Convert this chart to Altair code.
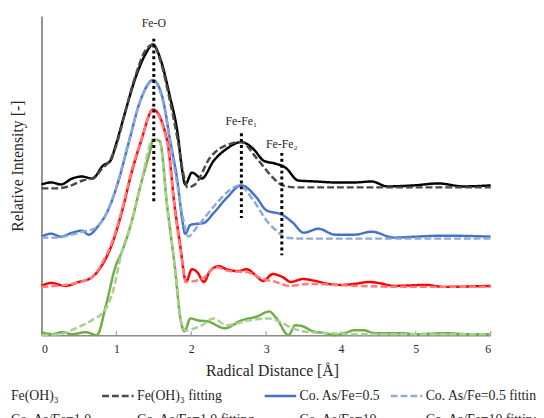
import altair as alt
import pandas as pd

# ---------------- data ----------------
series_names = [
    "Fe(OH)₃", "Fe(OH)₃ fitting",
    "Co. As/Fe=0.5", "Co. As/Fe=0.5 fitting",
    "Co. As/Fe=1.0", "Co. As/Fe=1.0 fitting",
    "Co. As/Fe=10", "Co. As/Fe=10 fitting",
]
series_colors = ["#000000", "#4a4a4a", "#4472c4", "#8eaadb",
                 "#ff0000", "#ff7c80", "#70ad47", "#a9d08e"]
series_dashes = [[1, 0], [7, 3], [1, 0], [7, 3], [1, 0], [7, 3], [1, 0], [7, 3]]

feoh_x = [0.00, 0.13, 0.26, 0.41, 0.54, 0.68, 0.82, 0.92, 1.00, 1.12, 1.25, 1.38, 1.49,
          1.59, 1.71, 1.82, 1.88, 1.92, 2.01, 2.14, 2.30, 2.47, 2.67, 2.83, 2.97, 3.13,
          3.26, 3.43, 3.66, 3.92, 4.18, 4.41, 4.62, 4.97, 5.30, 5.63, 6.00]
feoh_y = [1.53, 1.55, 1.53, 1.59, 1.61, 1.59, 1.72, 1.77, 1.95, 2.27, 2.60, 2.84, 2.95,
          2.80, 2.44, 2.04, 1.67, 1.53, 1.65, 1.59, 1.77, 1.89, 1.96, 1.89, 1.77, 1.74,
          1.70, 1.57, 1.56, 1.55, 1.55, 1.56, 1.51, 1.52, 1.54, 1.51, 1.52]

feoh_fit_x = [0.00, 0.20, 0.40, 0.55, 0.70, 0.82, 0.92, 1.00, 1.12, 1.25, 1.38, 1.49, 1.59,
              1.71, 1.82, 1.90, 1.95, 2.05, 2.25, 2.51, 2.67, 2.87, 3.09, 3.22, 3.40,
              4.00, 5.00, 6.00]
feoh_fit_y = [1.49, 1.49, 1.52, 1.57, 1.60, 1.70, 1.78, 1.93, 2.27, 2.62, 2.88, 2.95, 2.78,
              2.40, 1.98, 1.62, 1.50, 1.53, 1.80, 1.94, 1.96, 1.80, 1.60, 1.52, 1.50,
              1.50, 1.50, 1.50]

as05_x = [0.00, 0.13, 0.26, 0.41, 0.54, 0.63, 0.76, 0.89, 1.03, 1.16, 1.33, 1.49, 1.62,
          1.72, 1.82, 1.88, 1.92, 1.99, 2.17, 2.30, 2.47, 2.67, 2.87, 3.00, 3.22, 3.36,
          3.50, 3.70, 3.92, 4.18, 4.41, 4.71, 5.00, 5.37, 6.00]
as05_y = [1.00, 1.03, 1.00, 1.04, 1.06, 1.02, 1.11, 1.27, 1.57, 1.94, 2.40, 2.59, 2.40,
          1.97, 1.54, 1.17, 1.03, 1.12, 1.14, 1.24, 1.39, 1.52, 1.40, 1.27, 1.22, 1.14,
          1.04, 1.08, 1.02, 1.02, 1.05, 0.99, 1.00, 1.01, 1.00]

as05_fit_x = [0.00, 0.20, 0.40, 0.55, 0.70, 0.82, 0.92, 1.03, 1.16, 1.33, 1.49, 1.62, 1.72,
              1.82, 1.90, 1.96, 2.08, 2.34, 2.51, 2.64, 2.83, 3.00, 3.17, 3.26, 3.50,
              4.00, 5.00, 6.00]
as05_fit_y = [0.99, 0.99, 1.02, 1.05, 1.08, 1.17, 1.33, 1.58, 1.95, 2.40, 2.58, 2.38, 1.95,
              1.50, 1.15, 1.00, 1.10, 1.34, 1.47, 1.52, 1.37, 1.17, 1.04, 0.99, 0.98,
              0.98, 0.98, 0.98]

as10_x = [0.00, 0.13, 0.32, 0.50, 0.66, 0.80, 0.93, 1.07, 1.20, 1.33, 1.49, 1.68, 1.78,
          1.86, 1.91, 1.93, 2.01, 2.08, 2.17, 2.25, 2.37, 2.47, 2.63, 2.74, 2.87, 2.96,
          3.09, 3.22, 3.33, 3.49, 3.66, 3.83, 4.01, 4.18, 4.38, 4.50, 4.71, 5.14, 5.37, 6.00]
as10_y = [0.50, 0.53, 0.50, 0.54, 0.58, 0.70, 0.90, 1.24, 1.64, 1.97, 2.29, 1.97, 1.30,
          0.87, 0.59, 0.54, 0.67, 0.64, 0.54, 0.65, 0.70, 0.67, 0.65, 0.67, 0.60, 0.55,
          0.62, 0.59, 0.54, 0.57, 0.55, 0.52, 0.51, 0.52, 0.54, 0.53, 0.50, 0.51, 0.49, 0.50]

as10_fit_x = [0.00, 0.20, 0.40, 0.60, 0.70, 0.80, 0.93, 1.07, 1.20, 1.33, 1.49, 1.68, 1.78,
              1.86, 1.93, 2.14, 2.34, 2.51, 2.74, 2.96, 3.13, 3.30, 3.57, 4.18, 5.00, 6.00]
as10_fit_y = [0.49, 0.50, 0.52, 0.56, 0.60, 0.72, 0.92, 1.26, 1.66, 1.98, 2.28, 1.95, 1.28,
              0.85, 0.54, 0.57, 0.69, 0.65, 0.64, 0.57, 0.54, 0.50, 0.52, 0.50, 0.49, 0.49]

as100_x = [0.00, 0.14, 0.28, 0.41, 0.59, 0.74, 0.86, 0.99, 1.07, 1.20, 1.33, 1.46, 1.49,
           1.58, 1.68, 1.78, 1.86, 1.91, 1.99, 2.09, 2.22, 2.45, 2.67, 2.88, 3.04, 3.14,
           3.30, 3.39, 3.49, 3.62, 3.79, 3.92, 4.05, 4.18, 4.30, 4.45, 4.80, 5.00, 5.40,
           5.70, 6.00]
as100_y = [0.03, 0.01, 0.03, 0.01, 0.03, 0.00, 0.30, 0.70, 0.84, 1.14, 1.54, 1.90, 1.99,
           1.97, 1.30, 0.70, 0.15, 0.04, 0.17, 0.15, 0.14, 0.07, 0.15, 0.19, 0.24, 0.17,
           0.00, 0.10, 0.09, 0.04, 0.02, 0.00, 0.02, 0.05, 0.05, 0.02, 0.02, 0.01, 0.02,
           0.01, 0.01]

as100_fit_x = [0.00, 0.24, 0.46, 0.67, 0.86, 0.96, 1.07, 1.20, 1.33, 1.49, 1.58, 1.68, 1.78,
               1.86, 1.92, 2.12, 2.30, 2.47, 2.78, 3.04, 3.17, 3.36, 3.49, 3.83, 4.18,
               5.00, 6.00]
as100_fit_y = [0.00, 0.01, 0.07, 0.15, 0.27, 0.46, 0.84, 1.14, 1.54, 1.99, 1.96, 1.30, 0.70,
               0.15, 0.05, 0.09, 0.17, 0.10, 0.15, 0.17, 0.14, 0.07, 0.04, 0.02, 0.01,
               0.01, 0.01]

peak_names = ["Fe-O", "Fe-Fe₁", "Fe-Fe₂"]
peak_x = [1.50, 2.67, 3.21]
peak_top = [3.01, 2.05, 1.85]
peak_bottom = [1.36, 1.19, 0.81]
peak_label_y = [3.17, 2.17, 1.94]

tick_values = [0, 1, 2, 3, 4, 5, 6]

# ---------------- tables ----------------
series_xy = [
    (feoh_x, feoh_y), (feoh_fit_x, feoh_fit_y),
    (as05_x, as05_y), (as05_fit_x, as05_fit_y),
    (as10_x, as10_y), (as10_fit_x, as10_fit_y),
    (as100_x, as100_y), (as100_fit_x, as100_fit_y),
]
rows = []
for k, (name, (xs, ys)) in enumerate(zip(series_names, series_xy)):
    for i, (a, b) in enumerate(zip(xs, ys)):
        rows.append({"series": name, "x": a, "y": b, "i": i, "k": k})
df = pd.DataFrame(rows)

peaks = pd.DataFrame({"name": peak_names, "x": peak_x, "top": peak_top,
                      "bottom": peak_bottom, "ly": peak_label_y})
ticks = pd.DataFrame({"x": tick_values})

FONT = "'Times New Roman', 'Liberation Serif', serif"
x_scale = alt.Scale(domain=[0, 6], nice=False)
y_scale = alt.Scale(domain=[0, 3.24], nice=False, zero=False)

lines = alt.Chart(df).mark_line(strokeWidth=2.5, interpolate="monotone").encode(
    x=alt.X("x:Q", scale=x_scale, title="Radical Distance [Å]",
            axis=alt.Axis(values=tick_values, format="d", ticks=False, grid=False,
                          labelPadding=9, labelFont=FONT, labelFontSize=12,
                          labelColor="#262626", domainColor="#8c8c8c", domainWidth=1.5,
                          titleFont=FONT, titleFontSize=16, titleFontWeight="normal",
                          titleColor="#262626", titleX=234, titleY=36,
                          titleBaseline="middle", titleAlign="center")),
    y=alt.Y("y:Q", scale=y_scale, title="Relative Intensity [-]",
            axis=alt.Axis(labels=False, ticks=False, grid=False,
                          domainColor="#6e6e6e", domainWidth=1.5,
                          titleFont=FONT, titleFontSize=16, titleFontWeight="normal",
                          titleColor="#262626", titleX=-24, titleY=152,
                          titleAlign="center", titleBaseline="middle")),
    color=alt.Color("series:N", sort=series_names,
                    scale=alt.Scale(domain=series_names, range=series_colors),
                    legend=alt.Legend(title=None)),
    strokeDash=alt.StrokeDash("series:N", sort=series_names,
                              scale=alt.Scale(domain=series_names, range=series_dashes),
                              legend=alt.Legend(title=None)),
    detail="k:O",
    order="i:Q",
)

tick_marks = alt.Chart(ticks).mark_rule(color="#8c8c8c", strokeWidth=1).encode(
    x=alt.X("x:Q", scale=x_scale),
    y=alt.value(324), y2=alt.value(320),
)

dotted = alt.Chart(peaks).mark_rule(color="black", strokeWidth=3, strokeDash=[3, 3]).encode(
    x=alt.X("x:Q", scale=x_scale),
    y=alt.Y("top:Q", scale=y_scale),
    y2="bottom:Q",
)

labels = alt.Chart(peaks).mark_text(font=FONT, fontSize=12, color="#262626",
                                    baseline="middle", align="center").encode(
    x=alt.X("x:Q", scale=x_scale),
    y=alt.Y("ly:Q", scale=y_scale),
    text="name:N",
)

chart = alt.layer(tick_marks, lines, dotted, labels).properties(
    width=456, height=324,
    autosize=alt.AutoSizeParams(type="none"),
    padding={"left": 34, "top": 5, "right": 46, "bottom": 81},
).configure_view(stroke=None).configure_legend(
    orient="none", legendX=-68, legendY=368, columns=4, direction="horizontal",
    symbolType="stroke", symbolSize=1024, symbolStrokeWidth=2.5,
    labelFont=FONT, labelFontSize=14, labelColor="#262626", labelLimit=300,
    labelOffset=2, columnPadding=4, rowPadding=-13, padding=0,
)

chart.save("out.html", embed_options={"renderer": "svg", "actions": False})
